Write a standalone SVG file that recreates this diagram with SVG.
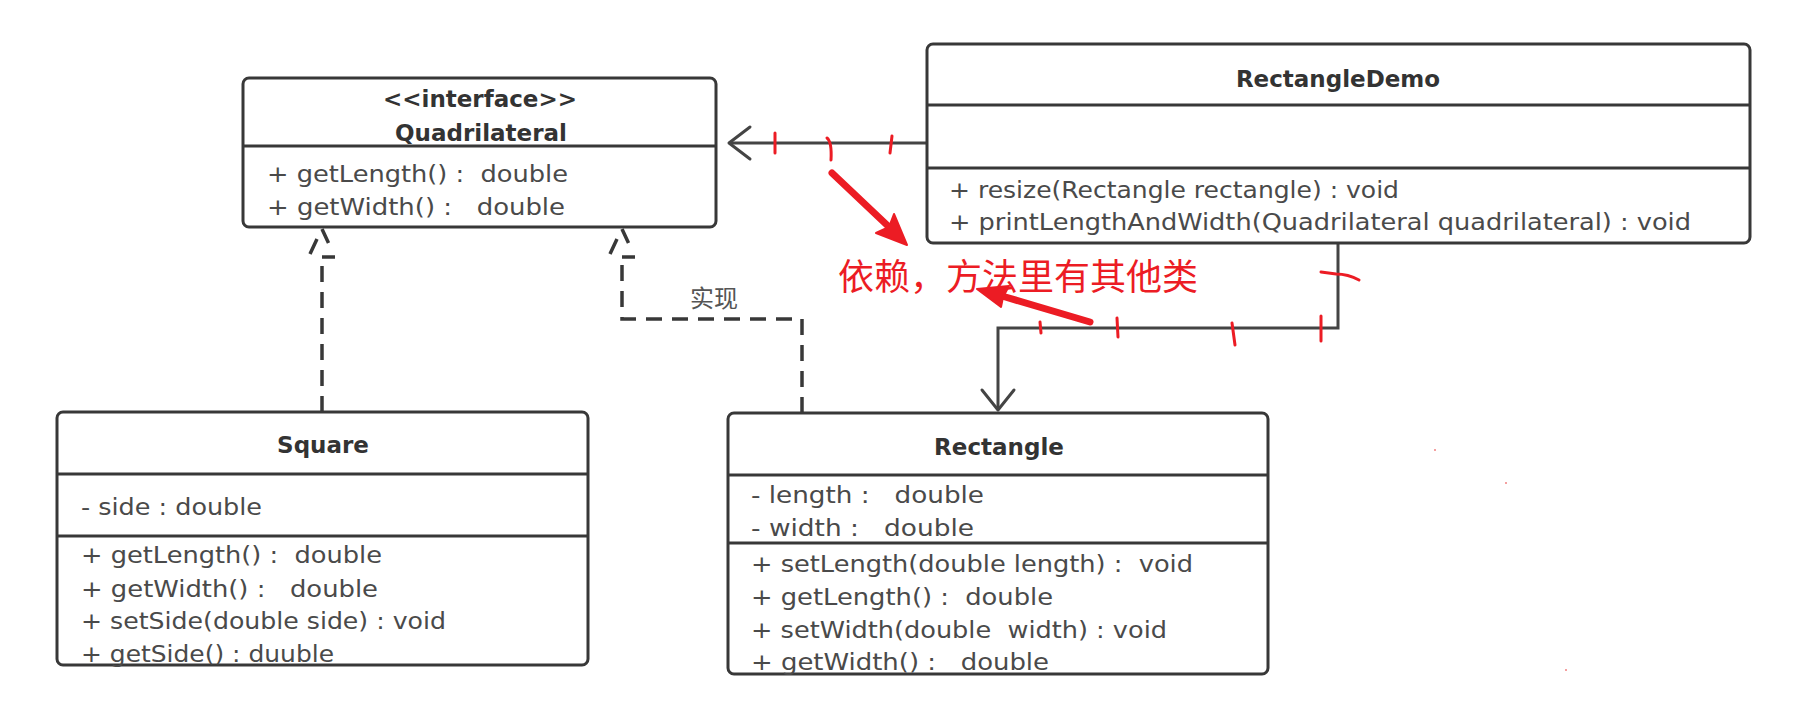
<svg xmlns="http://www.w3.org/2000/svg" width="1811" height="723" viewBox="0 0 1811 723" xml:space="preserve">
<style>
.box{fill:#fff;stroke:#383838;stroke-width:3}
.div{stroke:#383838;stroke-width:3;fill:none}
.title{font-family:"DejaVu Sans","Liberation Sans",sans-serif;font-weight:bold;font-size:23px;fill:#333;text-anchor:middle}
.mem{font-family:"DejaVu Sans","Liberation Sans",sans-serif;font-size:23px;fill:#4a4a4a;white-space:pre}
.solid{stroke:#444;stroke-width:3;fill:none}
.dash{stroke:#383838;stroke-width:3.5;fill:none;stroke-dasharray:16 10}
.head{stroke:#444;stroke-width:3;fill:none;stroke-linecap:round;stroke-linejoin:round}
.lbl{font-family:"Noto Sans CJK SC",sans-serif;font-size:24px;fill:#555;text-anchor:middle}
.red{stroke:#ec1c24;stroke-width:3;fill:none;stroke-linecap:round}
.redw{stroke:#ec1c24;stroke-width:7;fill:none;stroke-linecap:round}
.redf{fill:#ec1c24;stroke:#ec1c24;stroke-width:2;stroke-linejoin:round}
.redt{font-family:"Noto Sans CJK SC",sans-serif;font-size:36px;fill:#ec1c24}
</style>
<defs>
<g id="realizeHead">
<path d="M0,1 L6.5,15 M-5,11 L-12,26 M0,29 L13,29" stroke="#383838" stroke-width="3.5" fill="none"/>
</g>
</defs>
<rect width="1811" height="723" fill="#fff"/>

<g id="connectors">
<path class="solid" d="M927,143 L730,143"/>
<path class="head" d="M750,127 L729,143 L750,159"/>
<path class="solid" d="M1338,244 L1338,328 L998,328 L998,410"/>
<path class="head" d="M982,390 L998,410 L1014,390"/>
<path class="dash" d="M322,412 L322,258"/>
<use href="#realizeHead" x="322" y="228"/>
<path class="dash" d="M802,413 L802,319 L622,319 L622,258"/>
<use href="#realizeHead" x="622" y="228"/>
<text class="lbl" x="714" y="307">实现</text>
</g>

<g id="Quadrilateral">
<rect class="box" x="243" y="78" width="473" height="149" rx="6"/>
<path class="div" d="M243,146 L716,146"/>
<text class="title" x="480" y="107">&lt;&lt;interface&gt;&gt;</text>
<text class="title" x="481" y="141">Quadrilateral</text>
<text class="mem" x="267" y="182" textLength="301" lengthAdjust="spacingAndGlyphs">+ getLength() :  double</text>
<text class="mem" x="267" y="215" textLength="298" lengthAdjust="spacingAndGlyphs">+ getWidth() :   double</text>
</g>

<g id="RectangleDemo">
<rect class="box" x="927" y="44" width="823" height="199" rx="6"/>
<path class="div" d="M927,105 L1750,105 M927,168 L1750,168"/>
<text class="title" x="1338" y="87">RectangleDemo</text>
<text class="mem" x="949" y="198" textLength="450" lengthAdjust="spacingAndGlyphs">+ resize(Rectangle rectangle) : void</text>
<text class="mem" x="949" y="230" textLength="742" lengthAdjust="spacingAndGlyphs">+ printLengthAndWidth(Quadrilateral quadrilateral) : void</text>
</g>

<g id="Square">
<rect class="box" x="57" y="412" width="531" height="253" rx="6"/>
<path class="div" d="M57,474 L588,474 M57,536 L588,536"/>
<text class="title" x="323" y="453">Square</text>
<text class="mem" x="81" y="515" textLength="181" lengthAdjust="spacingAndGlyphs">- side : double</text>
<text class="mem" x="81" y="563" textLength="301" lengthAdjust="spacingAndGlyphs">+ getLength() :  double</text>
<text class="mem" x="81" y="597" textLength="297" lengthAdjust="spacingAndGlyphs">+ getWidth() :   double</text>
<text class="mem" x="81" y="629" textLength="365" lengthAdjust="spacingAndGlyphs">+ setSide(double side) : void</text>
<text class="mem" x="81" y="662" textLength="253" lengthAdjust="spacingAndGlyphs">+ getSide() : duuble</text>
</g>

<g id="Rectangle">
<rect class="box" x="728" y="413" width="540" height="261" rx="6"/>
<path class="div" d="M728,475 L1268,475 M728,543 L1268,543"/>
<text class="title" x="999" y="455">Rectangle</text>
<text class="mem" x="751" y="503" textLength="233" lengthAdjust="spacingAndGlyphs">- length :   double</text>
<text class="mem" x="751" y="536" textLength="223" lengthAdjust="spacingAndGlyphs">- width :   double</text>
<text class="mem" x="751" y="572" textLength="442" lengthAdjust="spacingAndGlyphs">+ setLength(double length) :  void</text>
<text class="mem" x="751" y="605" textLength="302" lengthAdjust="spacingAndGlyphs">+ getLength() :  double</text>
<text class="mem" x="751" y="638" textLength="416" lengthAdjust="spacingAndGlyphs">+ setWidth(double  width) : void</text>
<text class="mem" x="751" y="670" textLength="298" lengthAdjust="spacingAndGlyphs">+ getWidth() :   double</text>
</g>

<g id="annotations">
<path class="red" d="M775,133 L775,153"/>
<path class="red" d="M827,138 Q832,142 831,160"/>
<path class="red" d="M892,136 L890,153"/>
<path class="red" d="M1040,322 L1041,333"/>
<path class="red" d="M1117,318 L1118,337"/>
<path class="red" d="M1232,323 L1235,345"/>
<path class="red" d="M1321,316 L1321,341"/>
<path class="red" d="M1321,272 L1336,274 Q1348,274 1359,280"/>
<path class="redw" d="M832,173 L888,226"/>
<path class="redf" d="M907,245 L876,233 L889,227 L894,214 Z"/>
<path class="redw" d="M1090,322 L1002,296"/>
<path class="redf" d="M977,289 L1001,307 L1003,297 L1009,286 Z"/>
<text class="redt" x="838" y="290">依赖，方法里有其他类</text>
<circle cx="1435" cy="450" r="1" fill="#f08080"/>
<circle cx="1506" cy="483" r="1" fill="#f08080"/>
<circle cx="1566" cy="670" r="1" fill="#f08080"/>
</g>
</svg>
